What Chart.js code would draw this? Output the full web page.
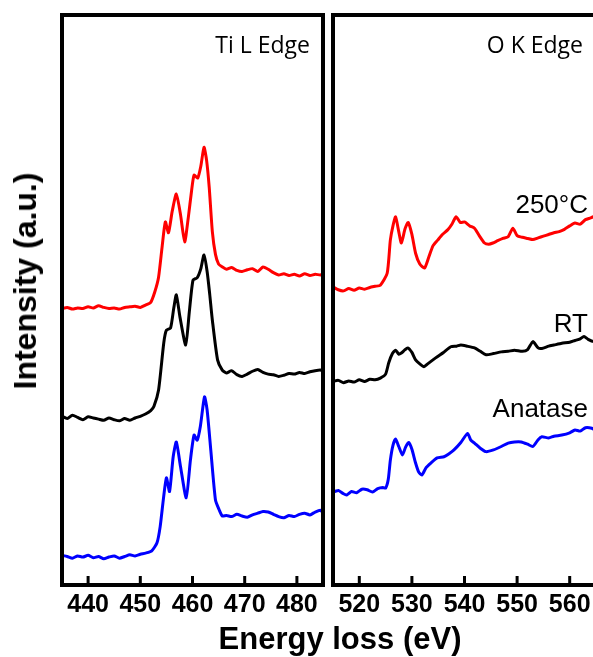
<!DOCTYPE html>
<html>
<head>
<meta charset="utf-8">
<script src="https://cdn.jsdelivr.net/npm/chart.js@4/dist/chart.umd.min.js"></script>
<style>
  html, body { margin: 0; padding: 0; background: #fff; overflow: hidden; }
  #wrap { position: relative; width: 593px; height: 657px; overflow: hidden; }
  canvas { position: absolute; top: 0; }
  .lbl { position: absolute; white-space: nowrap; line-height: 1; color: #000; }
  .edge { font-family: 'Open Sans', sans-serif; font-size: 23px; }
  .sample { font-family: 'Liberation Sans', Arial, sans-serif; font-size: 26px; }
  .axis { font-family: 'Liberation Sans', Arial, sans-serif; font-weight: bold; }
</style>
</head>
<body>
<div id="wrap">
  <canvas id="ti-chart" width="330" height="657" style="left:0"></canvas>
  <canvas id="o-chart" width="275" height="657" style="left:326px"></canvas>

  <div class="lbl edge" style="right:283px; top:33px">Ti L Edge</div>
  <div class="lbl edge" style="right:10px; top:33px">O K Edge</div>
  <div class="lbl sample" style="right:5px; top:191px">250°C</div>
  <div class="lbl sample" style="right:5px; top:310px">RT</div>
  <div class="lbl sample" style="right:5px; top:395px">Anatase</div>

  <div class="lbl axis" style="left:340px; top:623px; font-size:31px; transform:translateX(-50%)">Energy loss (eV)</div>
  <div class="lbl axis" style="left:25px; top:281px; font-size:32px; transform:translate(-50%,-50%) rotate(-90deg)">Intensity (a.u.)</div>
</div>

<script>
// tick labels
var tiTicks = [440, 450, 460, 470, 480];
var oTicks = [520, 530, 540, 550, 560];

// Ti L edge, 250°C (red)
var tiE250 = [435, 436, 437, 438, 439, 440, 441, 442, 443, 444, 445, 446, 447, 448, 449, 450, 451, 452, 452.8, 453.5, 454.2, 454.8, 455.4, 456.1, 456.9, 457.7, 458.5, 459.2, 459.8, 460.3, 461.0, 461.6, 462.2, 462.7, 463.2, 463.8, 464.4, 465.0, 465.7, 466.5, 467.5, 468.5, 469.5, 470.5, 471.5, 472.5, 473.5, 474.5, 475.5, 476.5, 477.5, 478.5, 479.5, 480.5, 481.5, 482.5, 483.5, 484.5, 485];
var tiI250 = [48.5, 48.7, 48.4, 48.6, 48.5, 48.8, 48.6, 49.0, 48.7, 48.5, 48.6, 48.4, 48.7, 48.8, 48.9, 48.7, 49.1, 49.6, 51.5, 54.0, 59.5, 63.7, 61.8, 65.5, 68.6, 65.0, 60.2, 64.5, 69.0, 71.9, 71.4, 73.5, 76.8, 74.5, 69.8, 62.0, 58.0, 56.3, 55.8, 55.4, 55.7, 55.2, 55.0, 55.3, 55.5, 55.0, 55.8, 55.4, 54.8, 54.4, 54.6, 54.3, 54.5, 54.2, 54.6, 54.3, 54.5, 54.4, 54.6];

// Ti L edge, RT (black)
var tiERT = [435, 436, 437, 438, 439, 440, 441, 442, 443, 444, 445, 446, 447, 448, 449, 450, 451, 452, 452.6, 453.5, 454.5, 455.0, 455.8, 456.4, 456.9, 457.6, 458.7, 459.4, 460.1, 460.9, 461.6, 462.2, 462.8, 463.3, 463.8, 464.8, 465.7, 466.5, 467.5, 468.5, 469.5, 470.5, 471.5, 472.5, 473.5, 474.5, 475.5, 476.5, 477.5, 478.5, 479.5, 480.5, 481.5, 482.5, 483.5, 484.5, 485];
var tiIRT = [29.6, 29.2, 29.8, 29.4, 29.0, 29.5, 29.3, 29.1, 28.9, 29.3, 29.0, 28.8, 29.2, 28.9, 29.3, 29.6, 30.0, 30.6, 31.3, 34.2, 42.5, 44.7, 45.1, 48.5, 50.9, 47.0, 42.1, 48.0, 53.5, 53.9, 55.5, 57.9, 55.0, 51.0, 46.5, 39.5, 37.7, 37.2, 37.6, 36.9, 36.6, 37.0, 37.5, 37.8, 37.3, 37.0, 36.9, 36.6, 36.8, 37.1, 37.0, 37.3, 37.1, 37.4, 37.6, 37.7, 37.5];

// Ti L edge, anatase (blue)
var tiEAna = [435, 436, 437, 438, 439, 440, 441, 442, 443, 444, 445, 446, 447, 448, 449, 450, 451, 452.2, 453.2, 453.8, 454.4, 455.0, 455.6, 456.3, 456.9, 457.7, 458.8, 459.6, 460.3, 460.9, 461.5, 462.3, 462.8, 463.5, 464.4, 465.1, 465.7, 466.5, 467.5, 468.5, 469.5, 470.5, 471.5, 472.5, 473.5, 474.5, 475.5, 476.5, 477.5, 478.5, 479.5, 480.5, 481.5, 482.5, 483.5, 484.5, 485];
var tiIAna = [5.2, 5.0, 4.7, 5.1, 4.9, 5.2, 4.8, 5.0, 4.6, 4.9, 5.1, 4.7, 5.0, 5.3, 5.1, 5.4, 5.6, 6.0, 7.4, 10.2, 14.9, 18.8, 16.4, 22.5, 25.1, 20.8, 15.3, 21.9, 26.3, 25.4, 27.8, 33.0, 30.7, 23.7, 14.9, 13.2, 12.1, 12.2, 12.0, 12.4, 12.1, 11.9, 12.3, 12.6, 12.9, 12.8, 12.4, 12.0, 11.8, 12.2, 12.0, 12.4, 12.6, 12.3, 12.8, 13.1, 12.7];

// O K edge, 250°C (red)
var oE250 = [515, 516, 517, 518, 519, 520, 521, 522, 523, 524, 525.3, 525.9, 526.4, 526.9, 527.5, 528.0, 528.7, 529.3, 530.0, 530.7, 531.5, 532.4, 533.2, 534.0, 534.9, 535.8, 536.8, 537.6, 538.4, 539.2, 540.0, 541.0, 541.9, 542.8, 543.8, 544.6, 545.4, 546.3, 547.3, 548.3, 549.2, 550.0, 551, 552, 553, 554, 555, 556, 557, 558, 559, 560, 561, 562, 563, 564, 565];
var oI250 = [52.3, 51.8, 51.6, 52.0, 51.7, 52.1, 51.9, 52.2, 52.4, 52.6, 54.7, 60.5, 63.0, 64.6, 62.0, 60.0, 62.5, 63.6, 61.5, 58.2, 56.3, 55.6, 57.5, 59.5, 60.5, 61.5, 62.3, 63.3, 64.6, 63.6, 63.7, 63.0, 62.6, 61.3, 60.0, 59.8, 60.0, 60.4, 60.8, 61.1, 62.6, 61.3, 61.0, 60.8, 60.6, 60.9, 61.2, 61.5, 61.8, 62.0, 62.4, 63.0, 63.5, 63.3, 64.1, 64.4, 64.8];

// O K edge, RT (black)
var oERT = [515, 516, 517, 518, 519, 520, 521, 522, 523, 524, 525.0, 525.6, 526.3, 526.9, 527.5, 528.0, 528.6, 529.2, 530.0, 530.7, 531.5, 532.3, 533.0, 534.0, 534.9, 536.0, 537.4, 538.5, 539.3, 540.5, 541.9, 543.0, 544.1, 545.5, 547.0, 548.3, 549.5, 551, 552, 553, 554, 554.7, 556, 557, 558.5, 560, 561, 562, 562.7, 563.5, 564.6, 565];
var oIRT = [35.7, 35.9, 35.5, 35.8, 35.6, 36.0, 35.7, 36.1, 36.0, 36.3, 37.0, 39.0, 40.6, 41.2, 40.5, 40.7, 41.2, 41.6, 40.8, 39.5, 38.8, 38.3, 38.8, 39.5, 40.1, 40.8, 41.8, 41.9, 42.1, 41.9, 41.6, 41.0, 40.4, 40.6, 40.9, 41.0, 41.2, 41.0, 41.3, 42.7, 41.6, 41.5, 41.9, 42.1, 42.4, 42.6, 42.9, 43.2, 43.6, 43.1, 42.7, 42.9];

// O K edge, anatase (blue)
var oEAna = [515, 515.4, 516, 517, 517.6, 518.5, 519.5, 520.5, 521.5, 522.5, 523.5, 524.5, 525.0, 525.5, 525.9, 526.4, 526.9, 527.5, 528.2, 528.8, 529.4, 530.0, 530.7, 531.3, 531.9, 532.7, 533.6, 534.8, 536.1, 537.0, 538.0, 539.3, 540.6, 541.2, 541.9, 543.0, 544.1, 545.5, 547.0, 548.3, 549.5, 550.8, 552, 553, 554, 554.7, 556, 557, 558.5, 560, 561, 562, 563, 564.2, 565];
var oIAna = [16.8, 16.4, 16.6, 16.0, 15.8, 16.4, 16.2, 16.8, 16.7, 16.3, 16.9, 17.1, 17.0, 18.5, 21.9, 24.5, 25.6, 24.3, 22.8, 24.2, 25.0, 23.8, 21.4, 19.8, 19.3, 20.6, 21.4, 22.3, 22.5, 23.0, 23.7, 25.0, 26.6, 25.4, 24.9, 24.0, 23.4, 23.7, 24.3, 24.9, 25.1, 25.1, 24.7, 24.3, 25.5, 26.0, 25.8, 26.1, 26.3, 26.7, 27.2, 27.0, 27.6, 27.5, 27.1];

function toPoints(xs, ys) {
	return xs.map(function (x, i) { return { x: x, y: ys[i] }; });
}

function series(xs, ys, color) {
	return {
		data: toPoints(xs, ys),
		borderColor: color,
		borderWidth: 3,
		pointRadius: 0,
		tension: 0.2,
		fill: false
	};
}

// box frame + inward ticks on the bottom edge
var framePlugin = {
	id: 'frame',
	afterDraw: function (chart) {
		var ctx = chart.ctx;
		var a = chart.chartArea;
		var xs = chart.scales.x;
		ctx.save();
		ctx.strokeStyle = '#000';
		ctx.lineWidth = 4;
		ctx.strokeRect(a.left, a.top, a.right - a.left, a.bottom - a.top);
		ctx.lineWidth = 3;
		xs.ticks.forEach(function (t) {
			var px = xs.getPixelForValue(t.value);
			ctx.beginPath();
			ctx.moveTo(px, a.bottom);
			ctx.lineTo(px, a.bottom - 9);
			ctx.stroke();
		});
		ctx.restore();
	}
};

function makePanel(id, xMin, xMax, ticks, datasets, pad) {
	return new Chart(document.getElementById(id), {
		type: 'line',
		data: { datasets: datasets },
		options: {
			responsive: false,
			animation: false,
			layout: { padding: pad },
			plugins: { legend: { display: false }, tooltip: { enabled: false } },
			scales: {
				x: {
					type: 'linear',
					min: xMin,
					max: xMax,
					afterBuildTicks: function (scale) {
						scale.ticks = ticks.map(function (v) { return { value: v }; });
					},
					afterFit: function (scale) {
						scale.height = 36;
					},
					grid: { display: false, drawTicks: false },
					border: { display: false },
					ticks: {
						color: '#000',
						padding: 5,
						maxRotation: 0,
						autoSkip: false,
						font: { family: "'Liberation Sans', Arial, sans-serif", size: 25, weight: 'bold' }
					}
				},
				y: { display: false, min: 0, max: 100 }
			}
		},
		plugins: [framePlugin]
	});
}

makePanel('ti-chart', 435, 485, tiTicks, [
	series(tiE250, tiI250, '#ff0000'),
	series(tiERT, tiIRT, '#000000'),
	series(tiEAna, tiIAna, '#0000ff')
], { left: 62, right: 7, top: 15, bottom: 36 });

makePanel('o-chart', 515, 565, oTicks, [
	series(oE250, oI250, '#ff0000'),
	series(oERT, oIRT, '#000000'),
	series(oEAna, oIAna, '#0000ff')
], { left: 7, right: 5, top: 15, bottom: 36 });
</script>
</body>
</html>
